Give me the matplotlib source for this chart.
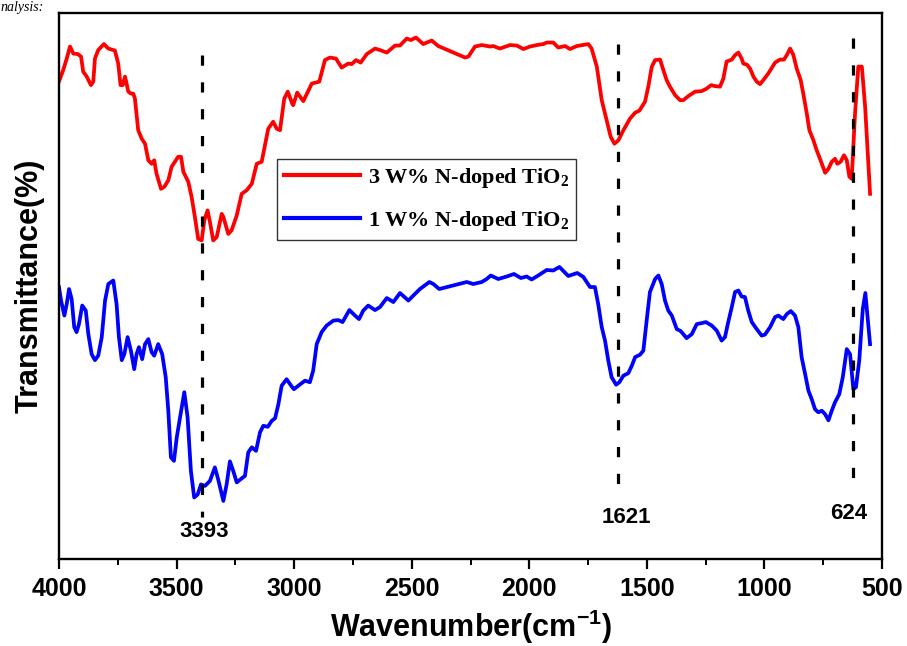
import numpy as np
import matplotlib
matplotlib.use('Agg')
import matplotlib.pyplot as plt

plt.rcParams['mathtext.default'] = 'regular'

# 3 W% N-doped TiO2 (red), wavenumber (cm-1) and transmittance (a.u.)
red_wn = [4000, 3982, 3967, 3953, 3939, 3920, 3906, 3897, 3882, 3864, 3854, 3847,
          3833, 3809, 3790, 3762, 3748, 3738, 3729, 3719, 3705, 3694, 3684, 3677,
          3663, 3648, 3634, 3620, 3606, 3595, 3585, 3566, 3552, 3535, 3521, 3493,
          3481, 3471, 3450, 3436, 3422, 3408, 3393, 3382, 3368, 3358, 3344, 3329,
          3308, 3301, 3280, 3266, 3244, 3223, 3202, 3180, 3159, 3138, 3110, 3089,
          3074, 3060, 3042, 3027, 3008, 3004, 2987, 2961, 2925, 2893, 2869, 2848,
          2822, 2798, 2770, 2755, 2737, 2717, 2691, 2656, 2635, 2606, 2571, 2550,
          2521, 2504, 2482, 2451, 2415, 2387, 2273, 2259, 2231, 2202, 2167, 2153,
          2125, 2082, 2053, 2025, 1997, 1968, 1940, 1926, 1898, 1877, 1848, 1827,
          1798, 1749, 1735, 1713, 1692, 1671, 1654, 1638, 1621, 1600, 1572, 1550,
          1532, 1508, 1494, 1479, 1465, 1444, 1430, 1416, 1402, 1380, 1359, 1345,
          1324, 1295, 1267, 1246, 1227, 1210, 1189, 1175, 1161, 1139, 1125, 1111,
          1097, 1090, 1075, 1061, 1047, 1033, 1019, 1005, 984, 955, 934, 917,
          905, 891, 877, 863, 846, 835, 820, 809, 792, 778, 764, 742,
          728, 714, 700, 690, 676, 662, 650, 639, 629, 615, 601, 586,
          572, 551]
red_t = [95.3, 97.6, 99.9, 102.3, 100.9, 100.8, 100.3, 97.3, 96.3, 94.6, 95.3, 99.9,
         101.6, 102.8, 101.9, 101.5, 98.9, 94.6, 94.6, 96.3, 93.3, 92.9, 92.9, 91.9,
         85.6, 83.9, 82.9, 79.6, 78.9, 79.6, 76.9, 73.9, 74.3, 75.6, 78.3, 80.3,
         80.3, 77.3, 75.3, 72.3, 68.3, 63.9, 63.6, 67.6, 69.6, 67.3, 63.6, 64.3,
         68.9, 68.3, 64.9, 65.6, 68.6, 72.9, 73.6, 74.9, 78.9, 79.3, 85.9, 87.3,
         85.9, 85.6, 91.9, 93.3, 90.9, 90.6, 93.1, 91.4, 94.9, 95.3, 99.6, 100.1,
         99.9, 98.1, 98.9, 98.8, 99.6, 99.1, 100.8, 101.9, 101.6, 101.1, 102.5, 102.5,
         103.9, 103.6, 104.1, 102.8, 103.5, 102.4, 100.1, 100.3, 102.3, 102.6, 102.3, 102.4,
         101.9, 102.6, 102.5, 101.8, 102.3, 102.6, 102.8, 103.1, 103.1, 102.1, 102.4, 101.8,
         102.4, 102.8, 101.9, 98.3, 91.6, 87.6, 84.3, 82.9, 83.6, 85.6, 87.9, 89.1,
         89.5, 91.3, 94.3, 98.3, 99.6, 99.7, 97.6, 95.6, 94.3, 92.6, 91.6, 91.6,
         92.4, 93.3, 93.4, 93.9, 94.6, 94.4, 94.3, 95.9, 99.3, 99.7, 100.6, 101.1,
         99.9, 98.9, 98.7, 97.9, 96.3, 95.3, 94.8, 95.6, 96.9, 99.1, 99.7, 99.7,
         100.6, 101.9, 100.6, 97.9, 95.6, 92.9, 88.9, 85.6, 83.6, 81.6, 79.9, 77.1,
         77.9, 79.3, 79.9, 78.9, 79.3, 80.6, 79.6, 76.3, 75.9, 88.9, 98.3, 98.3,
         90.3, 72.9]

# 1 W% N-doped TiO2 (blue)
blue_wn = [4000, 3991, 3977, 3967, 3957, 3946, 3935, 3925, 3915, 3901, 3886, 3875,
           3861, 3847, 3833, 3818, 3804, 3790, 3769, 3755, 3745, 3733, 3722, 3708,
           3694, 3680, 3670, 3660, 3646, 3634, 3620, 3606, 3595, 3578, 3561, 3546,
           3535, 3524, 3511, 3499, 3485, 3467, 3453, 3439, 3425, 3410, 3396, 3379,
           3358, 3337, 3323, 3301, 3287, 3273, 3259, 3244, 3223, 3209, 3195, 3180,
           3162, 3145, 3131, 3112, 3095, 3081, 3067, 3053, 3032, 3008, 3001, 2982,
           2954, 2933, 2919, 2904, 2883, 2862, 2833, 2812, 2794, 2765, 2741, 2724,
           2706, 2685, 2656, 2635, 2606, 2578, 2550, 2514, 2493, 2465, 2425, 2408,
           2383, 2266, 2238, 2202, 2181, 2164, 2132, 2096, 2065, 2036, 2011, 1990,
           1962, 1926, 1898, 1872, 1834, 1796, 1770, 1742, 1721, 1707, 1692, 1678,
           1664, 1650, 1631, 1617, 1600, 1579, 1564, 1550, 1529, 1515, 1501, 1487,
           1465, 1451, 1437, 1423, 1409, 1394, 1373, 1356, 1331, 1309, 1288, 1267,
           1249, 1224, 1203, 1182, 1168, 1154, 1139, 1125, 1111, 1097, 1083, 1069,
           1054, 1033, 1012, 998, 976, 955, 941, 920, 905, 888, 870, 856,
           842, 827, 813, 799, 785, 771, 756, 742, 728, 714, 700, 682,
           667, 650, 636, 622, 611, 597, 582, 571, 551]
blue_t = [54.3, 51.6, 48.6, 50.9, 53.9, 51.9, 46.3, 45.3, 46.9, 50.6, 49.6, 44.9,
          40.9, 39.7, 40.6, 44.3, 51.6, 54.9, 55.6, 50.9, 44.3, 39.7, 40.9, 44.3,
          41.6, 37.9, 40.9, 42.3, 39.9, 42.9, 43.9, 41.3, 40.6, 42.9, 40.9, 36.3,
          29.6, 20.3, 19.6, 24.3, 28.3, 33.3, 28.3, 17.6, 12.3, 12.9, 14.9, 14.6,
          15.6, 18.3, 15.9, 11.6, 14.9, 19.5, 17.6, 15.3, 16.1, 16.6, 21.3, 22.3,
          21.6, 25.3, 26.6, 26.4, 27.6, 28.1, 30.9, 34.6, 35.9, 34.3, 33.9, 34.6,
          35.6, 35.3, 37.6, 42.9, 45.3, 46.6, 47.6, 47.7, 47.3, 49.7, 48.6, 47.9,
          49.6, 50.6, 49.7, 50.3, 52.1, 51.3, 53.1, 51.6, 52.6, 53.9, 55.3, 54.9,
          53.9, 55.3, 54.9, 55.3, 55.9, 56.6, 55.9, 56.4, 56.9, 56.1, 56.4, 55.8,
          56.6, 57.7, 57.6, 58.3, 56.5, 57.1, 56.3, 54.3, 54.3, 50.9, 46.3, 43.6,
          39.6, 36.3, 34.8, 35.3, 36.6, 37.1, 38.6, 40.3, 40.8, 41.6, 47.6, 53.3,
          55.9, 56.6, 54.9, 51.6, 49.6, 48.6, 45.9, 45.5, 44.1, 44.9, 46.9, 47.1,
          47.3, 46.6, 45.6, 43.6, 44.3, 47.3, 50.3, 53.3, 53.6, 52.4, 52.3, 49.6,
          47.3, 45.9, 44.6, 44.8, 46.3, 48.3, 48.6, 47.9, 48.9, 49.5, 48.6, 46.3,
          40.3, 36.9, 33.6, 31.9, 29.9, 29.3, 29.6, 28.9, 27.7, 29.6, 31.3, 32.9,
          36.3, 41.9, 40.9, 33.9, 34.3, 39.6, 49.9, 53.1, 42.9]

# marked peaks: position, dashed line top / bottom, label position
peak_wn = [3393, 1621, 624]
peak_top = [100.6, 102.8, 104.0]
peak_bot = [8.4, 11.8, 13.0]
peak_lbl = ['3393', '1621', '624']
lbl_wn = [3383, 1586, 640]
lbl_t = [5.4, 8.3, 9.0]

xticks = [4000, 3500, 3000, 2500, 2000, 1500, 1000, 500]

fig = plt.figure(figsize=(9.07, 6.46), dpi=100)
ax = fig.add_axes([0.065, 0.1346, 0.9075, 0.8453])

ax.plot(red_wn, red_t, color='#ff0000', lw=2.7, solid_joinstyle='round',
        label='3 W% N-doped TiO$_2$')
ax.plot(blue_wn, blue_t, color='#0000ff', lw=2.7, solid_joinstyle='round',
        label='1 W% N-doped TiO$_2$')

# dashed marker lines, drawn from the top down so a dash starts at the top
for w, t0, t1 in zip(peak_wn, peak_bot, peak_top):
    ax.plot([w, w], [t1, t0], color='k', lw=2.3, linestyle=(0, (3.2, 5.2)))
for w, t, s in zip(lbl_wn, lbl_t, peak_lbl):
    ax.text(w, t, s, ha='center', va='center', fontsize=16,
            family='Liberation Sans', weight='bold')

ax.set_xlim(4000, 500)
ax.set_ylim(0, 109)
ax.set_xticks(xticks)
ax.set_xticks(np.arange(3750, 500, -500), minor=True)
ax.set_yticks([])
ax.tick_params(axis='x', which='major', direction='out', length=7, width=1.6,
               pad=6, labelsize=18)
ax.tick_params(axis='x', which='minor', direction='out', length=4.3, width=1.4)
for lab in ax.get_xticklabels():
    lab.set_family('Liberation Sans')
    lab.set_weight('bold')
for sp in ax.spines.values():
    sp.set_linewidth(1.7)

ax.set_xlabel('Wavenumber(cm$^{-1}$)', fontsize=22, family='Liberation Sans',
              weight='bold', labelpad=5)
ax.set_ylabel('Transmittance(%)', fontsize=22, family='Liberation Sans',
              weight='bold', labelpad=10)

leg = ax.legend(loc='upper left', bbox_to_anchor=(0.265, 0.732), fancybox=False,
                framealpha=1, edgecolor='#333333', handlelength=3.45,
                handletextpad=0.32, labelspacing=0.85, borderpad=0.3,
                borderaxespad=0,
                prop={'family': 'Liberation Serif', 'weight': 'bold', 'size': 16})
leg.get_frame().set_linewidth(1.0)
for h in leg.get_lines():
    h.set_linewidth(3.0)

# line of document text just above the figure
fig.text(0.001, 0.999, 'nalysis:', fontsize=10, family='Liberation Serif',
         style='italic', va='top', ha='left')

fig.savefig('out.png', dpi=100)
